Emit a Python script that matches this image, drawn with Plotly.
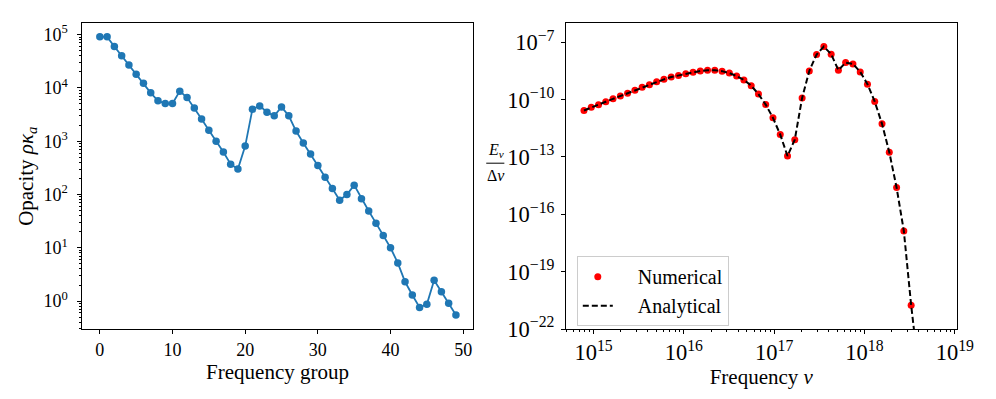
import plotly.graph_objects as go

# left panel: opacity per frequency group
groups = list(range(50))
opacity = [9.1e4, 9.1e4, 6.0e4, 4.0e4, 2.7e4, 1.8e4, 1.23e4, 8.1e3, 5.75e3, 5.1e3,
           5.1e3, 8.7e3, 6.6e3, 4.2e3, 2.6e3, 1.6e3, 1.0e3, 630, 370, 300,
           810, 4.0e3, 4.6e3, 3.5e3, 3.0e3, 4.4e3, 3.0e3, 1.55e3, 930, 575,
           350, 210, 130, 78, 100, 150, 83, 49, 29, 17,
           10, 5.2, 2.3, 1.3, 0.76, 0.87, 2.45, 1.5, 0.91, 0.55]
opacity_ticks = [1, 10, 100, 1e3, 1e4, 1e5]
opacity_labels = ["10<sup>%d</sup>" % p for p in range(6)]

# right panel: spectral energy density
freq = [7.83e14, 9.43e14, 1.135e15, 1.366e15, 1.644e15, 1.98e15, 2.38e15, 2.87e15,
        3.45e15, 4.155e15, 5.0e15, 6.02e15, 7.24e15, 8.72e15, 1.05e16, 1.264e16,
        1.52e16, 1.83e16, 2.20e16, 2.65e16, 3.19e16, 3.84e16, 4.62e16, 5.57e16,
        6.70e16, 8.06e16, 9.70e16, 1.168e17, 1.406e17, 1.692e17, 2.04e17, 2.45e17,
        2.95e17, 3.55e17, 4.28e17, 5.15e17, 6.19e17, 7.46e17, 8.98e17, 1.08e18,
        1.30e18, 1.565e18, 1.884e18, 2.27e18, 2.73e18, 3.29e18]
numerical = [2.72e-11, 3.98e-11, 5.46e-11, 7.76e-11, 1.10e-10, 1.55e-10, 2.19e-10, 3.09e-10,
             4.42e-10, 6.03e-10, 8.51e-10, 1.15e-9, 1.53e-9, 1.84e-9, 2.24e-9, 2.72e-9,
             3.16e-9, 3.47e-9, 3.47e-9, 3.09e-9, 2.45e-9, 1.72e-9, 1.08e-9, 5.37e-10,
             1.95e-10, 5.5e-11, 1.12e-11, 1.48e-12, 1.12e-13, 8.1e-13, 1.23e-10, 3.16e-9,
             2.29e-8, 6.0e-8, 2.37e-8, 3.47e-9, 8.7e-9, 7.4e-9, 2.82e-9, 6.46e-10,
             7.9e-11, 5.4e-12, 1.78e-13, 2.5e-15, 1.35e-17, 1.78e-21]
freq_an = freq + [3.95e18]
analytical = numerical + [1.0e-24]

FONT = "Liberation Serif"
minor_left = [m * 10.0 ** p for p in range(-1, 6) for m in range(2, 10)]

fig = go.Figure()
fig.add_trace(go.Scatter(x=groups, y=opacity, mode="lines+markers", showlegend=False,
                         line=dict(color="#1f77b4", width=1.8),
                         marker=dict(color="#1f77b4", size=7.5), xaxis="x", yaxis="y"))
fig.add_trace(go.Scatter(x=freq, y=numerical, mode="markers", name="\u2002\u2002Numerical",
                         marker=dict(color="red", size=7), xaxis="x2", yaxis="y2"))
fig.add_trace(go.Scatter(x=freq_an, y=analytical, mode="lines", name="\u2002\u2002Analytical",
                         line=dict(color="black", width=2, dash="6px,3px"),
                         xaxis="x2", yaxis="y2"))

ax = dict(showline=True, linecolor="black", linewidth=1, mirror=True, ticks="outside",
          ticklen=4, tickcolor="black", showgrid=False, zeroline=False,
          tickfont=dict(family=FONT, size=18, color="black"))

fig.update_layout(
    width=996, height=399,
    paper_bgcolor="white", plot_bgcolor="white",
    margin=dict(l=0, r=0, t=0, b=0),
    font=dict(family=FONT, color="black"),
    xaxis=dict(ax, domain=[0.076, 0.4746], range=[-2.4, 51.3], dtick=10, tick0=0,
               title=dict(text="Frequency group", font=dict(size=21), standoff=4),
               anchor="y"),
    yaxis=dict(ax, domain=[0.1687, 0.9624], type="log", range=[-0.525, 5.21],
               tickmode="array", tickvals=opacity_ticks, ticktext=opacity_labels,
               ticklabelstandoff=6,
               minor=dict(ticks="outside", ticklen=2, tickcolor="black", showgrid=False,
                          tickmode="array", tickvals=minor_left),
               title=dict(text="Opacity <i>ρκ</i><sub><i>a</i></sub>", font=dict(size=21),
                          standoff=4),
               anchor="x"),
    xaxis2=dict(ax, domain=[0.570, 0.9689], type="log", range=[14.695, 19.02],
                dtick=1, exponentformat="power",
                minor=dict(ticks="outside", ticklen=2, tickcolor="black", showgrid=False),
                title=dict(text="Frequency <i>ν</i>", font=dict(size=21), standoff=4),
                anchor="y2"),
    yaxis2=dict(ax, domain=[0.1687, 0.9632], type="log", range=[-22, -6.0],
                dtick=3, tick0=-1, exponentformat="power", ticklabelstandoff=3,
                anchor="x2"),
    legend=dict(x=0.581, y=0.358, xanchor="left", yanchor="top",
                bordercolor="#cccccc", borderwidth=1, bgcolor="rgba(255,255,255,0.8)",
                font=dict(family=FONT, size=20), tracegroupgap=0),
)

# fraction-style y label on the right panel
fig.add_annotation(x=0.498, y=0.603, xref="paper", yref="paper", showarrow=False,
                   text="<i>E<sub>ν</sub></i>", font=dict(size=16), yanchor="bottom")
fig.add_annotation(x=0.498, y=0.596, xref="paper", yref="paper", showarrow=False,
                   text="Δ<i>ν</i>", font=dict(size=16), yanchor="top")
fig.add_shape(type="line", xref="paper", yref="paper", x0=0.4885, x1=0.507,
              y0=0.5995, y1=0.5995, line=dict(color="black", width=1))

fig.write_html("out.html")
